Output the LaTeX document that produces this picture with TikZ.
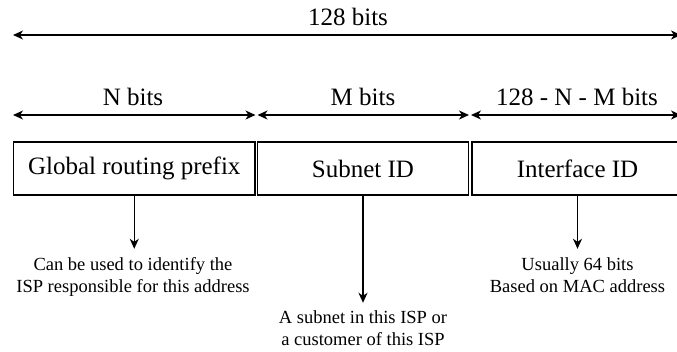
\documentclass[tikz,border=0pt]{standalone}
\usepackage{fontspec}
\setmainfont{Liberation Serif}
\usetikzlibrary{arrows.meta}
\begin{document}
\begin{tikzpicture}[x=1pt,y=-1pt,
  tip/.style={},
  arr/.style={line width=1.5pt,{Stealth[length=10pt,width=9pt,inset=3pt]}-{Stealth[length=10pt,width=9pt,inset=3pt]}},
  darr/.style={line width=1.5pt,-{Stealth[length=10pt,width=9pt,inset=3pt]}},
  field/.style={draw,line width=1.6pt,minimum height=53pt,inner sep=0pt,font=\fontsize{25}{30}\selectfont},
  lab/.style={inner sep=0pt,font=\fontsize{25}{30}\selectfont,anchor=base},
  note/.style={inner sep=0pt,anchor=north,align=center,font=\fontsize{18.5}{22}\selectfont}]
\useasboundingbox (0,0) rectangle (677,351);
% top arrow
\coordinate (t1) at (13,35);
\coordinate (t2) at (681,35);
\draw[arr] (t1) -- (t2);
\node[lab] (tl) at (348,25) {128 bits};
% field arrows
\coordinate (a0) at (13,115);
\coordinate (a1) at (255.5,115);
\coordinate (a2) at (257.5,115);
\coordinate (a3) at (469,115);
\coordinate (a4) at (471,115);
\coordinate (a5) at (681,115);
\draw[arr] (a0) -- (a1);
\draw[arr] (a2) -- (a3);
\draw[arr] (a4) -- (a5);
\node[lab] (l1) at (133,105) {N bits};
\node[lab] (l2) at (363,105) {M bits};
\node[lab] (l3) at (577,105) {128 - N - M bits};
% fields
\node[field,minimum width=241.5pt] (b1) at (134.25,168.5) {Global routing prefix};
\node[field,minimum width=211pt] (b2) at (363,168.5) {Subnet ID};
\node[field,minimum width=211pt] (b3) at (577.5,168.5) {Interface ID};
% notes
\node[note] (n1) at (133,257.5) {Can be used to identify the\\ISP responsible for this address};
\node[note] (n2) at (363,310.5) {A subnet in this ISP or\\a customer of this ISP};
\node[note] (n3) at (577.5,257.5) {Usually 64 bits\\Based on MAC address};
\draw[darr] (b1.south) -- ++(0,53);
\draw[darr] (b2.south) -- ++(0,107);
\draw[darr] (b3.south) -- ++(0,53);
\end{tikzpicture}
\end{document}
